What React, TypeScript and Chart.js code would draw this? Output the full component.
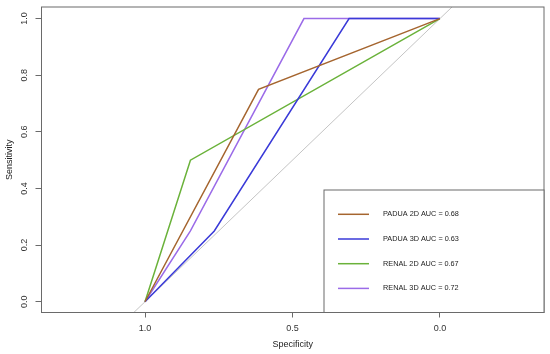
import { useEffect, useRef } from "react";
import { Chart, registerables } from "chart.js";
Chart.register(...registerables);

const seriesLabels = [
  "PADUA 2D AUC = 0.68",
  "PADUA 3D AUC = 0.63",
  "RENAL 2D AUC = 0.67",
  "RENAL 3D AUC = 0.72",
];
const seriesColors = ["#A5652F", "#3A3AD8", "#6AB23A", "#9B6BE8"];
const padua2dSpec = [1, 0.615, 0];
const padua2dSens = [0, 0.75, 1];
const padua3dSpec = [1, 0.765, 0.308, 0];
const padua3dSens = [0, 0.25, 1, 1];
const renal2dSpec = [1, 0.846, 0];
const renal2dSens = [0, 0.5, 1];
const renal3dSpec = [1, 0.846, 0.461, 0];
const renal3dSens = [0, 0.25, 1, 1];
const refSpec = [1.5, -0.5];
const refSens = [-0.5, 1.5];
const xTicks = [1, 0.5, 0];
const yTicks = [0, 0.2, 0.4, 0.6, 0.8, 1];
const xTitle = "Specificity";
const yTitle = "Sensitivity";

const pts = (xs: number[], ys: number[]) => xs.map((x, i) => ({ x, y: ys[i] }));

const FONT = "'Liberation Sans', Arial, Helvetica, sans-serif";

export default function App() {
  const ref = useRef<HTMLCanvasElement | null>(null);
  useEffect(() => {
    document.body.style.margin = "0";
    const canvas = ref.current;
    if (!canvas) return;
    const curves = [
      pts(padua2dSpec, padua2dSens),
      pts(padua3dSpec, padua3dSens),
      pts(renal2dSpec, renal2dSens),
      pts(renal3dSpec, renal3dSens),
    ];
    const datasets: any[] = curves.map((d, i) => ({
      label: seriesLabels[i],
      data: d,
      borderColor: seriesColors[i],
      borderWidth: 1.5,
      pointRadius: 0,
      tension: 0,
      fill: false,
      order: i,
    }));
    datasets.push({
      label: "ref",
      data: pts(refSpec, refSens),
      borderColor: "#c4c4c4",
      borderWidth: 1,
      pointRadius: 0,
      fill: false,
      order: 10,
    });

    const custom = {
      id: "custom",
      afterDraw(chart: any) {
        const ctx = chart.ctx;
        const a = chart.chartArea;
        ctx.save();
        // frame
        ctx.strokeStyle = "#6a6a6a";
        ctx.lineWidth = 1;
        ctx.strokeRect(a.left, a.top, a.right - a.left, a.bottom - a.top);
        // y tick labels rotated
        const ys = chart.scales.y;
        ctx.fillStyle = "#333";
        ctx.font = `9px ${FONT}`;
        ctx.textAlign = "center";
        ctx.textBaseline = "middle";
        yTicks.forEach((v) => {
          const py = ys.getPixelForValue(v);
          ctx.save();
          ctx.translate(25, py);
          ctx.rotate(-Math.PI / 2);
          ctx.fillText(v.toFixed(1), 0, 0);
          ctx.restore();
        });
        // legend
        const lw = 220, lh = 122.5;
        const lx = a.right - lw, ly = a.bottom - lh;
        ctx.fillStyle = "#fff";
        ctx.fillRect(lx, ly, lw, lh);
        ctx.strokeStyle = "#6a6a6a";
        ctx.strokeRect(lx, ly, lw, lh);
        ctx.font = `7.3px ${FONT}`;
        ctx.textAlign = "left";
        ctx.textBaseline = "middle";
        seriesLabels.forEach((lab, i) => {
          const ry = ly + 24.3 + i * 24.7;
          ctx.strokeStyle = seriesColors[i];
          ctx.lineWidth = 1.5;
          ctx.beginPath();
          ctx.moveTo(lx + 14, ry);
          ctx.lineTo(lx + 45, ry);
          ctx.stroke();
          ctx.fillStyle = "#222";
          ctx.fillText(lab, lx + 59, ry);
        });
        ctx.restore();
      },
    };

    const chart = new Chart(canvas, {
      type: "line",
      data: { datasets },
      options: {
        animation: false,
        responsive: false,
        layout: { padding: { top: 7, right: 6, left: 0, bottom: 0 } },
        plugins: { legend: { display: false }, tooltip: { enabled: false } },
        scales: {
          x: {
            type: "linear",
            min: -0.353,
            max: 1.351,
            reverse: true,
            afterBuildTicks: (s: any) => {
              s.ticks = xTicks.map((v) => ({ value: v }));
            },
            afterFit: (s: any) => {
              s.height = 41.5;
            },
            grid: {
              display: true,
              drawOnChartArea: false,
              drawTicks: true,
              tickLength: 5,
              color: "#6a6a6a",
            },
            border: { display: false },
            ticks: {
              color: "#333",
              font: { family: FONT, size: 9 },
              padding: 6,
              maxRotation: 0,
              autoSkip: false,
              callback: (v: any) => Number(v).toFixed(1),
            },
            title: {
              display: true,
              text: xTitle,
              color: "#222",
              font: { family: FONT, size: 9 },
              padding: { top: 0, bottom: 4 },
            },
          },
          y: {
            type: "linear",
            min: -0.038,
            max: 1.041,
            afterBuildTicks: (s: any) => {
              s.ticks = yTicks.map((v) => ({ value: v }));
            },
            afterFit: (s: any) => {
              s.width = 41.5;
            },
            grid: {
              display: true,
              drawOnChartArea: false,
              drawTicks: true,
              tickLength: 6,
              color: "#6a6a6a",
            },
            border: { display: false },
            ticks: { display: false },
            title: {
              display: true,
              text: yTitle,
              color: "#222",
              font: { family: FONT, size: 9 },
              padding: { top: 4, bottom: 0 },
            },
          },
        },
      },
      plugins: [custom],
    } as any);
    return () => chart.destroy();
  }, []);
  return <canvas ref={ref} width={550} height={354} style={{ display: "block" }} />;
}
